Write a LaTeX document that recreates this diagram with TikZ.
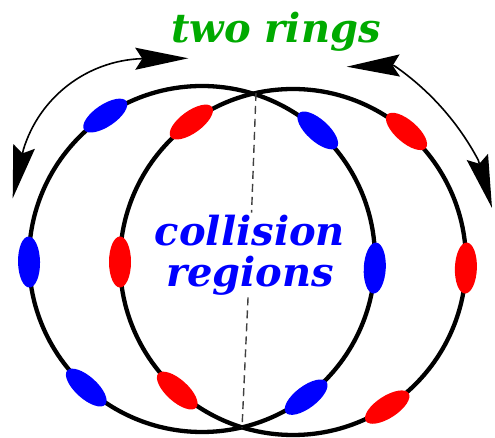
\documentclass[tikz,border=0pt]{standalone}
\usepackage{tikz}
\usepackage{fontspec}
\newfontfamily\ringfont{DejaVu Serif}
\usetikzlibrary{arrows.meta,calc,shapes.geometric}
\definecolor{ringgreen}{RGB}{0,170,0}

\begin{document}
\begin{tikzpicture}[
    x=1pt,y=1pt,
    ring/.style={line width=4.3pt},
    bunch/.style={ellipse,inner sep=0pt,minimum width=22pt,minimum height=51pt},
    turn/.style={line width=1.6pt,
        {Stealth[length=53pt,width=22pt,inset=7pt]}-{Stealth[length=53pt,width=22pt,inset=7pt]}},
    divide/.style={dash pattern=on 8pt off 5pt,line width=1.4pt,black!75},
    bigtext/.style={font=\ringfont\fontsize{40}{41}\selectfont\bfseries\itshape},
]
\useasboundingbox (0,0) rectangle (495,438);

% Ring centres and where they cross
\coordinate (L) at (202,179);
\coordinate (R) at (293,176);
\coordinate (top) at (256,345);
\coordinate (bot) at (242,10);

% The two rings
\draw[ring] (L) circle[radius=173];
\draw[ring] (R) circle[radius=173];

% Bunches on each ring
\foreach \a [count=\i] in {124,181,228,-3,48,-53}
    \node[bunch,fill=blue,rotate=\a] (bl\i) at ($(L)+(\a:173)$) {};
\foreach \a [count=\i] in {126,180,228,-2,49,-57}
    \node[bunch,fill=red,rotate=\a] (br\i) at ($(R)+(\a:173)$) {};

% Labels
\node[bigtext,text=ringgreen,anchor=base] (title) at (276,395) {two rings};
\node[bigtext,text=blue,align=center,inner sep=2pt] (coll) at (250,183)
    {collision\\regions};

% Dividing line through the crossings
\draw[divide] (top) -- (coll);
\draw[divide] (coll) -- (bot);

% Direction of motion
\coordinate (lc) at (146.3,250.9);
\coordinate (ltipa) at (12.7,239.7);
\coordinate (ltipb) at (188.3,379.7);
\draw[turn] (ltipa) -- ($(lc)+(163:128.5)$)
    arc[start angle=163,end angle=92,radius=128.5] -- (ltipb);

\coordinate (rc) at (242.5,152.6);
\coordinate (rtipa) at (346.7,371.3);
\coordinate (rtipb) at (492,230);
\draw[turn] (rtipa) -- ($(rc)+(55.4:267)$)
    arc[start angle=55.4,end angle=28,radius=267] -- (rtipb);
\end{tikzpicture}
\end{document}
